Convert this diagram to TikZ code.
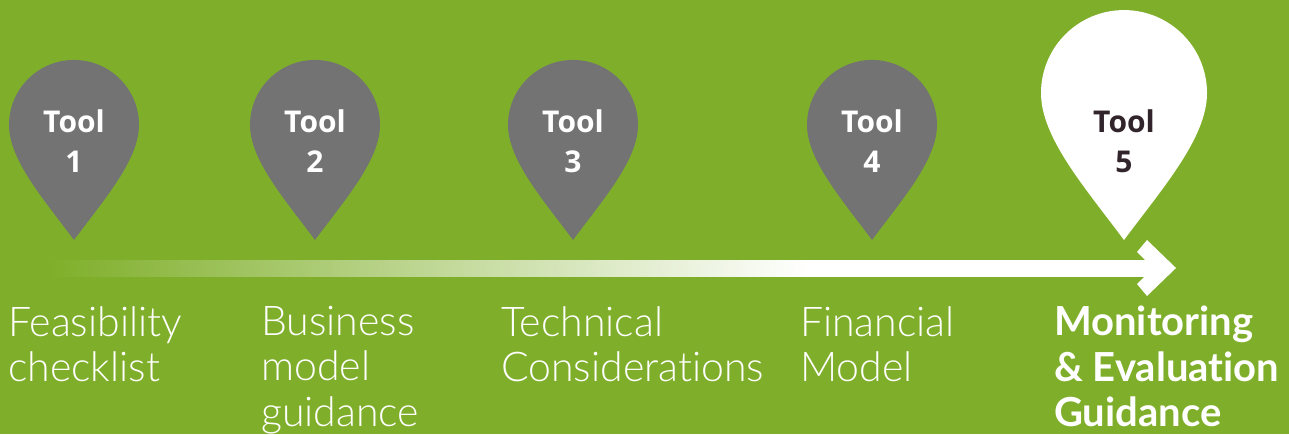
\documentclass[tikz,border=0pt]{standalone}
\usepackage{fontspec}
\usepackage{tikz}
\usetikzlibrary{positioning}
\setmainfont{Open Sans}
\newfontfamily\labelfont[Ligatures=NoCommon]{Lato Light}
\newfontfamily\labelboldfont[Ligatures=NoCommon]{Lato Bold}
\definecolor{tlgreen}{RGB}{127,175,42}
\definecolor{tlgrey}{RGB}{115,115,115}
\definecolor{tldark}{RGB}{49,36,43}
\pgfdeclarehorizontalshading{barfade}{100bp}{color(0bp)=(tlgreen); color(25bp)=(tlgreen); color(59bp)=(white); color(100bp)=(white)}
\tikzstyle{toolname} = [text=white, font=\fontsize{30}{40}\selectfont\bfseries, align=center, inner sep=0pt]
\tikzstyle{toollabel} = [text=white, font=\labelfont\fontsize{41}{45.5}\selectfont, align=left, anchor=north west, inner sep=0pt]
\newcommand{\droppin}[3]{\fill[#3, shift={(#1,194)}, scale=#2] (0,0) .. controls (-.46,.62) and (-1,1.23) .. (-1,1.77) arc[start angle=180, end angle=0, radius=1] .. controls (1,1.23) and (.46,.62) .. cycle;}

\begin{document}
\begin{tikzpicture}[x=1pt, y=1pt]
\fill[tlgreen] (0,0) rectangle (1289,434);
\useasboundingbox (0,0) rectangle (1289,434);

% Pins
\droppin{74}{65}{tlgrey}
\droppin{315}{65}{tlgrey}
\droppin{573}{65}{tlgrey}
\droppin{872}{65}{tlgrey}
\droppin{1124}{83}{white}

\node (tool1) [toolname] at (74,293) {Tool\\1};
\node (tool2) [toolname] at (315,293) {Tool\\2};
\node (tool3) [toolname] at (573,293) {Tool\\3};
\node (tool4) [toolname] at (872,293) {Tool\\4};
\node (tool5) [toolname, text=tldark] at (1124,293) {Tool\\5};

% Timeline
\coordinate (barstart) at (50,174);
\coordinate (barend) at (1165,158);
\shade[shading=barfade] (barstart) rectangle (barend);
\fill[white] (1147,194) -- (1176,166) -- (1147,138) -- (1137,150) -- (1153,166) -- (1137,182) -- cycle;

% Labels
\node (label1) [toollabel] at (8,128) {Feasibility\\checklist};
\node (label2) [toollabel] at (261,128) {Business\\model\\guidance};
\node (label3) [toollabel] at (501,128) {Technical\\Considerations};
\node (label4) [toollabel] at (800,128) {Financial\\Model};
\node (label5) [toollabel, font=\labelboldfont\fontsize{40}{45.5}\selectfont] at (1054,128) {Monitoring\\\& Evaluation\\Guidance};
\end{tikzpicture}
\end{document}
